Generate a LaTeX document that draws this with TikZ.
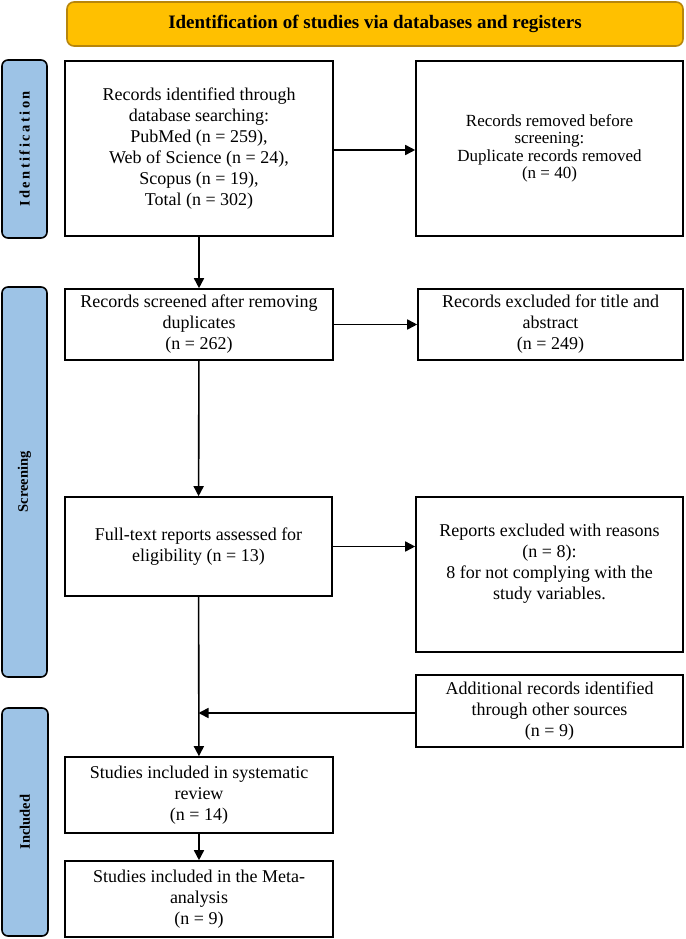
\documentclass[tikz,border=0pt]{standalone}
\usepackage{fontspec}
\setmainfont{Liberation Serif}
\usetikzlibrary{arrows.meta, positioning}
\definecolor{headgold}{HTML}{FFC000}
\definecolor{headedge}{HTML}{B8860B}
\definecolor{phaseblue}{HTML}{9DC3E6}

\tikzset{
    box/.style={draw, line width=1.6pt, align=center, font=\fontsize{18}{21}\selectfont,
        inner sep=2pt},
    phase/.style={draw, line width=1.6pt, rounded corners=6pt, fill=phaseblue,
        rotate=90, font=\bfseries\fontsize{14.5}{17}\selectfont, inner sep=0pt},
    flow/.style={line width=1.6pt, -{Triangle[length=10pt,width=10pt]}}
}

\begin{document}
\begin{tikzpicture}[x=1pt, y=-1pt]
                \useasboundingbox (0,0) rectangle (685,939);
                \node[draw=headedge, line width=1.6pt, rounded corners=7pt, fill=headgold,
                    minimum width=616pt, minimum height=44pt,
                    font=\bfseries\fontsize{19}{21}\selectfont] (head) at (375,24)
                    {Identification of studies via databases and registers};
                % phases
                \node[phase, minimum width=178pt, minimum height=45pt] (idlab) at (24.5,149)
                    {\addfontfeature{LetterSpace=17}Identification};
                \node[phase, minimum width=390pt, minimum height=45pt] (scrlab) at (24.5,482)
                    {Screening};
                \node[phase, minimum width=228pt, minimum height=46pt] (inclab) at (25,822)
                    {Included};
                % boxes
                \node[box, minimum width=268pt, minimum height=175pt] (recs) at (199,148.5)
                    {Records identified through\\database searching:\\PubMed (n = 259),\\
                     Web of Science (n = 24),\\Scopus (n = 19),\\Total (n = 302)};
                \node[box, minimum width=267pt, minimum height=175pt,
                    font=\fontsize{17}{17.5}\selectfont] (removed) at (549.5,148.5)
                    {Records removed before\\screening:\\Duplicate records removed\\(n = 40)};
                \node[box, minimum width=268pt, minimum height=71pt] (screened) at (199,324.5)
                    {Records screened after removing\\duplicates\\(n = 262)};
                \node[box, minimum width=265pt, minimum height=71pt] (excluded) at (550.5,324.5)
                    {Records excluded for title and\\abstract\\(n = 249)};
                \node[box, minimum width=267pt, minimum height=99pt] (fulltext) at (198.5,546.5)
                    {Full-text reports assessed for\\eligibility (n = 13)};
                \node[box, minimum width=267pt, minimum height=155pt] (reports) at (549.5,574.5)
                    {Reports excluded with reasons\\(n = 8):\\8 for not complying with the\\
                     study variables.\\[5pt]};
                \node[box, minimum width=267pt, minimum height=72pt] (additional) at (549.5,711)
                    {Additional records identified\\through other sources\\(n = 9)};
                \node[box, minimum width=268pt, minimum height=76pt] (review) at (199,795)
                    {Studies included in systematic\\review\\(n = 14)};
                \node[box, minimum width=268pt, minimum height=76pt] (meta) at (199,899)
                    {Studies included in the Meta-\\analysis\\(n = 9)};
                % arrows
                \draw[flow] (recs.east |- 0,150) -- (removed.west |- 0,150);
                \draw[flow] (recs) -- (screened);
                \draw[flow] (screened) -- (excluded);
                \draw[flow] (screened) -- (fulltext);
                \draw[flow] (fulltext.east) -- (fulltext.east -| reports.west);
                \draw[flow] (fulltext) -- (review);
                \draw[flow] (additional.west |- 0,713) -- (fulltext.south |- 0,713);
                \draw[flow] (review) -- (meta);
            \end{tikzpicture}
\end{document}
